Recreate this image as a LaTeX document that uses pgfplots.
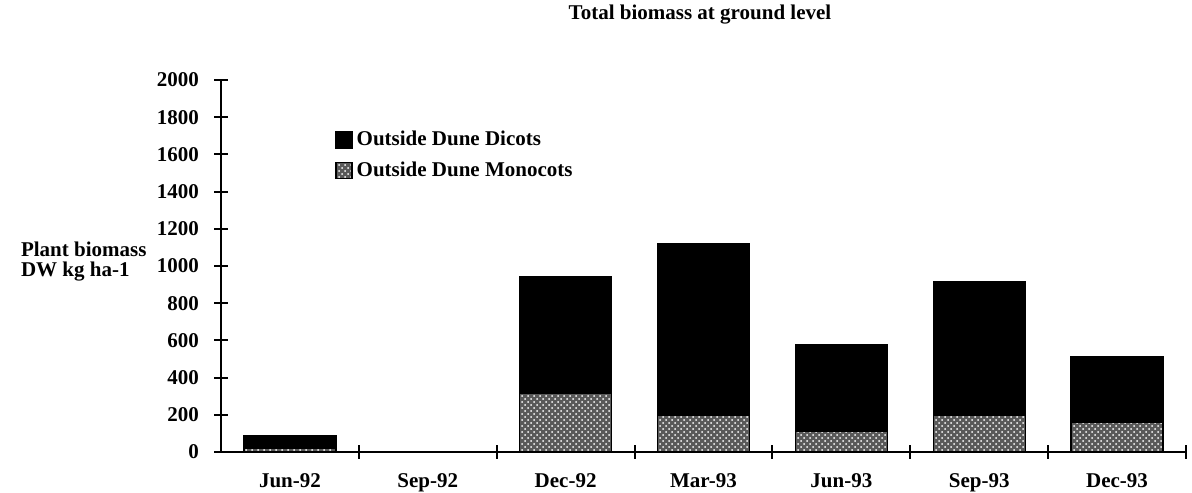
\documentclass[border=0pt]{standalone}
\usepackage{pgfplots}
\pgfplotsset{compat=1.18}
\usetikzlibrary{patterns}
\usepackage{fontspec}
\setmainfont{Liberation Serif}
\pgfplotsset{sqlegend/.style={legend image code/.code={\path[##1] (0pt,-4pt) rectangle (8pt,4pt);}}}

\begin{document}
\begin{tikzpicture}[font=\bfseries\fontsize{10.5}{11}\selectfont]
  \path[use as bounding box] (-110.5pt,-20pt) rectangle (485.5pt,226pt);
  \begin{axis}[
      scale only axis,
      width=482.5pt, height=186pt,
      xmin=-0.5, xmax=6.5, ymin=0, ymax=2000,
      axis x line=bottom, axis y line=left,
      axis line style={-, line width=1pt},
      ybar stacked, bar width=46pt,
      xtick={0,...,6},
      xticklabels={Jun-92, Sep-92, Dec-92, Mar-93, Jun-93, Sep-93, Dec-93},
      major x tick style={draw=none},
      minor xtick={0.5,1.5,...,6.5},
      minor x tick style={line width=1pt, black},
      ytick={0,200,...,2000},
      ytick style={line width=1pt, black},
      tick align=center,
      major tick length=7pt, minor tick length=7pt,
      /pgf/number format/assume math mode=true,
      /pgf/number format/1000 sep={},
      ticklabel style={font=\bfseries\fontsize{10.5}{11}\selectfont},
      xticklabel style={yshift=-4pt},
      yticklabel style={xshift=-4pt},
      legend style={draw=none, fill=none, at={(0.112,0.885)}, anchor=north west,
        row sep=2.5pt, font=\bfseries\fontsize{10.5}{11}\selectfont,
        /tikz/every even column/.append style={column sep=2pt}},
      legend cell align=left,
      reverse legend,
    ]
    % Monocots (dotted, bottom)
    \addplot[draw=black, line width=0.6pt, fill=black!65,
      postaction={pattern=crosshatch dots, pattern color=white}, sqlegend]
      coordinates {(0,20) (1,0) (2,316) (3,199) (4,109) (5,199) (6,158)};
    % Dicots (black, top)
    \addplot[draw=black, line width=0.6pt, fill=black, sqlegend]
      coordinates {(0,70) (1,0) (2,626) (3,923) (4,470) (5,717) (6,354)};
    \legend{Outside Dune Monocots, Outside Dune Dicots}
  \end{axis}
  \node at (239.5pt,218.5pt) {\fontsize{10.5}{11}\selectfont Total biomass at ground level};
  \node[anchor=west, align=left, font=\bfseries\fontsize{10.5}{10}\selectfont]
    at (-103.5pt,95pt) {Plant biomass\\DW kg ha-1};
\end{tikzpicture}
\end{document}
